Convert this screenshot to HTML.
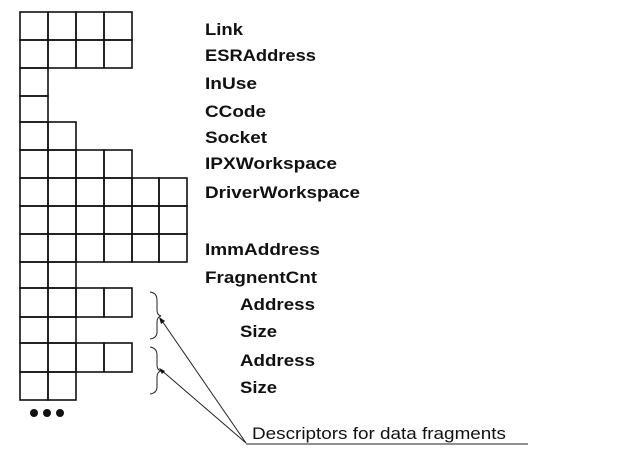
<!DOCTYPE html>
<html><head><style>html,body{margin:0;padding:0;background:#fff}svg{display:block}</style></head><body>
<svg width="636" height="458" viewBox="0 0 636 458" xmlns="http://www.w3.org/2000/svg">
<g fill="none" stroke="#111" stroke-width="1.6">
<!-- rows: y, height, count -->
<rect x="20" y="12" width="28" height="28"/><rect x="48" y="12" width="28" height="28"/><rect x="76" y="12" width="28" height="28"/><rect x="104" y="12" width="28" height="28"/>
<rect x="20" y="40" width="28" height="28"/><rect x="48" y="40" width="28" height="28"/><rect x="76" y="40" width="28" height="28"/><rect x="104" y="40" width="28" height="28"/>
<rect x="20" y="68" width="28" height="28"/>
<rect x="20" y="96" width="28" height="26"/>
<rect x="20" y="122" width="28" height="28"/><rect x="48" y="122" width="28" height="28"/>
<rect x="20" y="150" width="28" height="28"/><rect x="48" y="150" width="28" height="28"/><rect x="76" y="150" width="28" height="28"/><rect x="104" y="150" width="28" height="28"/>
<rect x="20" y="178" width="28" height="28"/><rect x="48" y="178" width="28" height="28"/><rect x="76" y="178" width="28" height="28"/><rect x="104" y="178" width="28" height="28"/><rect x="132" y="178" width="27" height="28"/><rect x="159" y="178" width="28" height="28"/>
<rect x="20" y="206" width="28" height="28"/><rect x="48" y="206" width="28" height="28"/><rect x="76" y="206" width="28" height="28"/><rect x="104" y="206" width="28" height="28"/><rect x="132" y="206" width="27" height="28"/><rect x="159" y="206" width="28" height="28"/>
<rect x="20" y="234" width="28" height="28"/><rect x="48" y="234" width="28" height="28"/><rect x="76" y="234" width="28" height="28"/><rect x="104" y="234" width="28" height="28"/><rect x="132" y="234" width="27" height="28"/><rect x="159" y="234" width="28" height="28"/>
<rect x="20" y="262" width="28" height="26"/><rect x="48" y="262" width="28" height="26"/>
<rect x="20" y="288" width="28" height="29"/><rect x="48" y="288" width="28" height="29"/><rect x="76" y="288" width="28" height="29"/><rect x="104" y="288" width="28" height="29"/>
<rect x="20" y="317" width="28" height="26"/><rect x="48" y="317" width="28" height="26"/>
<rect x="20" y="343" width="28" height="29"/><rect x="48" y="343" width="28" height="29"/><rect x="76" y="343" width="28" height="29"/><rect x="104" y="343" width="28" height="29"/>
<rect x="20" y="372" width="28" height="28"/><rect x="48" y="372" width="28" height="28"/>
</g>
<g fill="#111"><circle cx="34" cy="413" r="4"/><circle cx="47" cy="413" r="4"/><circle cx="60" cy="413" r="4"/></g>
<g fill="none" stroke="#222" stroke-width="1">
<path d="M150,292 Q157,293 157,300 L157,310 Q157,315 161,316 Q157,317 157,322 L157,332 Q157,338 150,339"/>
<path d="M150,347 Q157,348 157,355 L157,365 Q157,370 161,371 Q157,372 157,377 L157,387 Q157,393 150,394"/>
<line x1="246" y1="443" x2="160" y2="318"/>
<line x1="246" y1="443" x2="160" y2="369"/>
<line x1="246" y1="444" x2="528" y2="444"/>
</g>
<g fill="#111"><path d="M159,317 L165,321 L161,324 Z"/><path d="M159,368 L165,371 L162,374 Z"/></g>
<g font-family="Liberation Sans, Arial, sans-serif" font-weight="bold" font-size="17" fill="#111">
<text x="205" y="35" textLength="38" lengthAdjust="spacingAndGlyphs">Link</text>
<text x="205" y="61" textLength="111" lengthAdjust="spacingAndGlyphs">ESRAddress</text>
<text x="205" y="89" textLength="52" lengthAdjust="spacingAndGlyphs">InUse</text>
<text x="205" y="117" textLength="61" lengthAdjust="spacingAndGlyphs">CCode</text>
<text x="205" y="143" textLength="62" lengthAdjust="spacingAndGlyphs">Socket</text>
<text x="205" y="169" textLength="132" lengthAdjust="spacingAndGlyphs">IPXWorkspace</text>
<text x="205" y="198" textLength="155" lengthAdjust="spacingAndGlyphs">DriverWorkspace</text>
<text x="205" y="255" textLength="115" lengthAdjust="spacingAndGlyphs">ImmAddress</text>
<text x="205" y="283" textLength="112" lengthAdjust="spacingAndGlyphs">FragnentCnt</text>
<text x="240" y="310" textLength="75" lengthAdjust="spacingAndGlyphs">Address</text>
<text x="240" y="337" textLength="37" lengthAdjust="spacingAndGlyphs">Size</text>
<text x="240" y="366" textLength="75" lengthAdjust="spacingAndGlyphs">Address</text>
<text x="240" y="393" textLength="37" lengthAdjust="spacingAndGlyphs">Size</text>
</g>
<text x="252" y="439" font-family="Liberation Sans, Arial, sans-serif" font-size="17" fill="#111" textLength="254" lengthAdjust="spacingAndGlyphs">Descriptors for data fragments</text>
</svg>
</body></html>
